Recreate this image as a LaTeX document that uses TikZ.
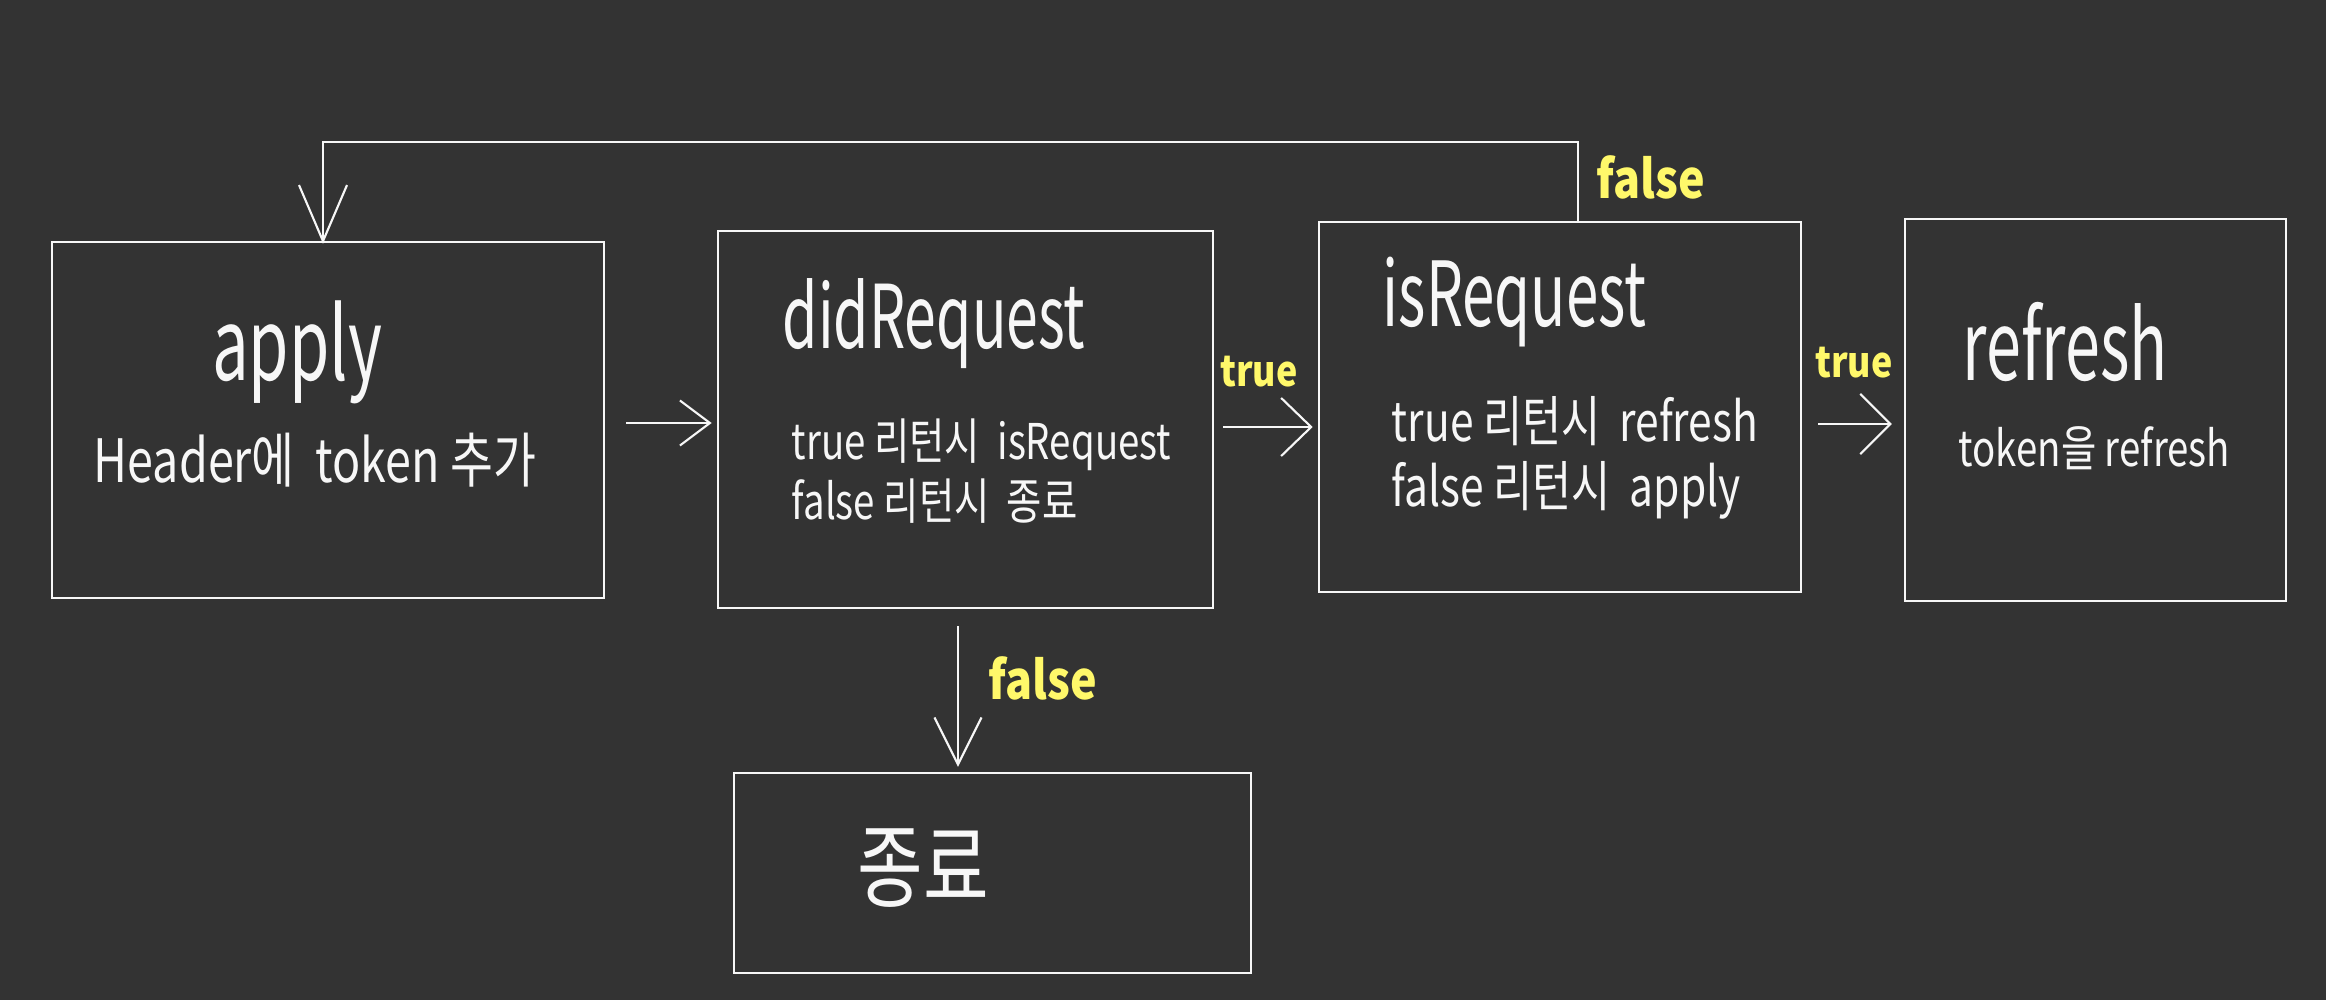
\documentclass[tikz,border=0pt]{standalone}
\usepackage{fontspec}
\setmainfont{Noto Sans CJK KR}[FakeStretch=0.78]
\newfontfamily\ttlfont{Noto Sans CJK KR}[FakeStretch=0.65]
\newfontfamily\labfont{Noto Sans CJK KR}[FakeStretch=0.85]
\usetikzlibrary{arrows.meta}
\definecolor{bgc}{HTML}{333333}
\definecolor{inkc}{HTML}{F7F7F7}
\definecolor{yelc}{HTML}{FFF86A}
\begin{document}
\begin{tikzpicture}[x=0.01cm,y=-0.01cm,
  box/.style={draw=inkc, line width=0.65pt, inner sep=0pt},
  txt/.style={text=inkc, inner sep=0pt},
  ttl/.style={txt, font=\ttlfont\fontsize{25}{28}\selectfont},
  body/.style={txt, align=left, font=\fontsize{15}{17.5}\selectfont},
  lab/.style={text=yelc, inner sep=0pt, font=\labfont\bfseries\fontsize{12}{14}\selectfont},
  arr/.style={draw=inkc, line width=0.6pt, -{Straight Barb[length=0.42cm, width=0.55cm, line width=0.6pt]}}
]
\fill[bgc] (0,0) rectangle (2326,1000);
\useasboundingbox (0,0) rectangle (2326,1000);

% boxes
\node[box, minimum width=5.52cm, minimum height=3.56cm] (apply) at (328,420) {};
\node[box, minimum width=4.95cm, minimum height=3.77cm] (did) at (965.5,419.5) {};
\node[box, minimum width=4.82cm, minimum height=3.70cm] (is) at (1560,407) {};
\node[box, minimum width=3.81cm, minimum height=3.82cm] (ref) at (2095.5,410) {};
\node[box, minimum width=5.17cm, minimum height=2.00cm] (end) at (992.5,873) {};

% texts
\node[ttl, font=\ttlfont\fontsize{28.5}{32}\selectfont] (applyT) at (297,352) {apply};
\node[txt, font=\fontsize{17}{20}\selectfont] (applyB) at (315,460) {Header에 \ token 추가};
\node[ttl, anchor=west] (didT) at (782,324) {didRequest};
\node[body, anchor=west, font=\fontsize{14}{17}\selectfont] (didB) at (791,471) {true 리턴시 \ isRequest\\false 리턴시 \ 종료};
\node[ttl, anchor=west, font=\ttlfont\fontsize{25.5}{29}\selectfont] (isT) at (1382,302) {isRequest};
\node[body, anchor=west, font=\fontsize{15.5}{18.5}\selectfont] (isB) at (1391,458) {true 리턴시 \ refresh\\false 리턴시 \ apply};
\node[ttl, anchor=west, font=\ttlfont\fontsize{27.5}{31}\selectfont] (refT) at (1962,342) {refresh};
\node[body, anchor=west, font=\fontsize{14}{17}\selectfont] (refB) at (1958,448) {token을 refresh};
\node[txt, font=\fontsize{26}{30}\selectfont] (endT) at (923,868) {종료};

% connectors
\draw[arr, -{Straight Barb[length=0.3cm, width=0.45cm, line width=0.6pt]}]
  ([shift={(21,3)}]apply.east) -- ([shift={(-5,3)}]apply.east -| did.west);
\draw[arr, -{Straight Barb[length=0.3cm, width=0.58cm, line width=0.6pt]}]
  ([shift={(9,7.5)}]did.east) -- ([shift={(-5,20)}]is.west);
\draw[arr, -{Straight Barb[length=0.3cm, width=0.6cm, line width=0.6pt]}]
  ([shift={(16,17)}]is.east) -- ([shift={(-12,14)}]ref.west);
\draw[arr, -{Straight Barb[length=0.47cm, width=0.47cm, line width=0.6pt]}]
  ([shift={(-7.5,17)}]did.south) -- ([shift={(-34.5,-5)}]end.north);
\coordinate (fb) at (323,142);
\draw[arr, -{Straight Barb[length=0.56cm, width=0.48cm, line width=0.6pt]}]
  ([xshift=0.18cm]is.north) |- (fb) -- ([shift={(-5,3)}]apply.north);

% labels
\node[lab] (l1) at (1259,372) {true};
\node[lab] (l2) at (1854,363) {true};
\node[lab, font=\labfont\bfseries\fontsize{15}{18}\selectfont] (l3) at (1043,678) {false};
\node[lab, font=\labfont\bfseries\fontsize{15}{18}\selectfont] (l4) at (1651,177) {false};
\end{tikzpicture}
\end{document}
